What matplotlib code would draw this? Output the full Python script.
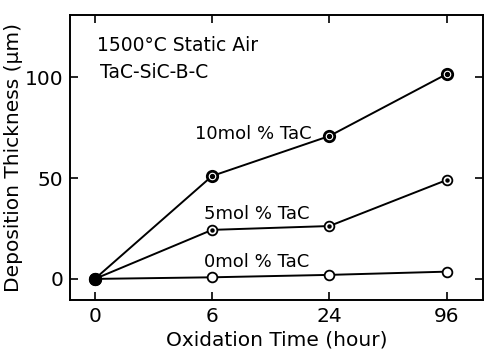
import matplotlib
matplotlib.use("Agg")
import matplotlib.pyplot as plt

# Oxidation times (hours), drawn on evenly spaced positions
time_labels = ["0", "6", "24", "96"]
positions = [0, 1, 2, 3]

# Deposition thickness (um) for each TaC content
tac0 = [0, 0.8, 2.0, 3.6]
tac5 = [0, 24.3, 26.2, 49.0]
tac10 = [0, 51.0, 70.8, 101.5]

y_ticks = [0, 50, 100]

plt.rcParams["font.family"] = ["DejaVu Sans"]

fig = plt.figure(figsize=(4.84, 3.52), dpi=100)
ax = fig.add_axes([0.145, 0.148, 0.853, 0.809])

lw = 1.4
# 0 mol% : open circles
ax.plot(positions, tac0, color="black", lw=lw, marker="o", ms=7,
        mfc="white", mec="black", mew=1.3, zorder=3)
# 5 mol% : circle with a centre dot
ax.plot(positions, tac5, color="black", lw=lw, marker="o", ms=7,
        mfc="white", mec="black", mew=1.3, zorder=3)
ax.plot(positions[1:], tac5[1:], ls="none", marker="o", ms=2.2,
        color="black", zorder=4)
# 10 mol% : heavy circle with a centre dot
ax.plot(positions, tac10, color="black", lw=lw, marker="o", ms=7.5,
        mfc="white", mec="black", mew=2.0, zorder=3)
ax.plot(positions[1:], tac10[1:], ls="none", marker="o", ms=2.8,
        color="black", zorder=4)
# common origin point, filled
ax.plot([positions[0]], [tac0[0]], ls="none", marker="o", ms=8.5,
        color="black", zorder=5)

ax.set_xlim(-0.21, 3.31)
ax.set_ylim(-10.4, 130.7)
ax.set_xticks(positions)
ax.set_xticklabels(time_labels)
ax.set_yticks(y_ticks)
ax.tick_params(direction="in", top=True, right=True, length=6, width=1.2,
               labelsize=14.5, pad=5)
for s in ax.spines.values():
    s.set_linewidth(1.4)

ax.set_xlabel("Oxidation Time (hour)", fontsize=14.5, labelpad=3)
ax.set_ylabel("Deposition Thickness (μm)", fontsize=14.5, labelpad=1)

ax.text(0.02, 115.8, "1500°C Static Air", fontsize=13.5, va="center", ha="left")
ax.text(0.04, 102.5, "TaC-SiC-B-C", fontsize=13.5, va="center", ha="left")
ax.text(0.855, 71.8, "10mol % TaC", fontsize=13, va="center", ha="left")
ax.text(0.93, 32.2, "5mol % TaC", fontsize=13, va="center", ha="left")
ax.text(0.93, 8.4, "0mol % TaC", fontsize=13, va="center", ha="left")

fig.savefig("out.png", dpi=100)
